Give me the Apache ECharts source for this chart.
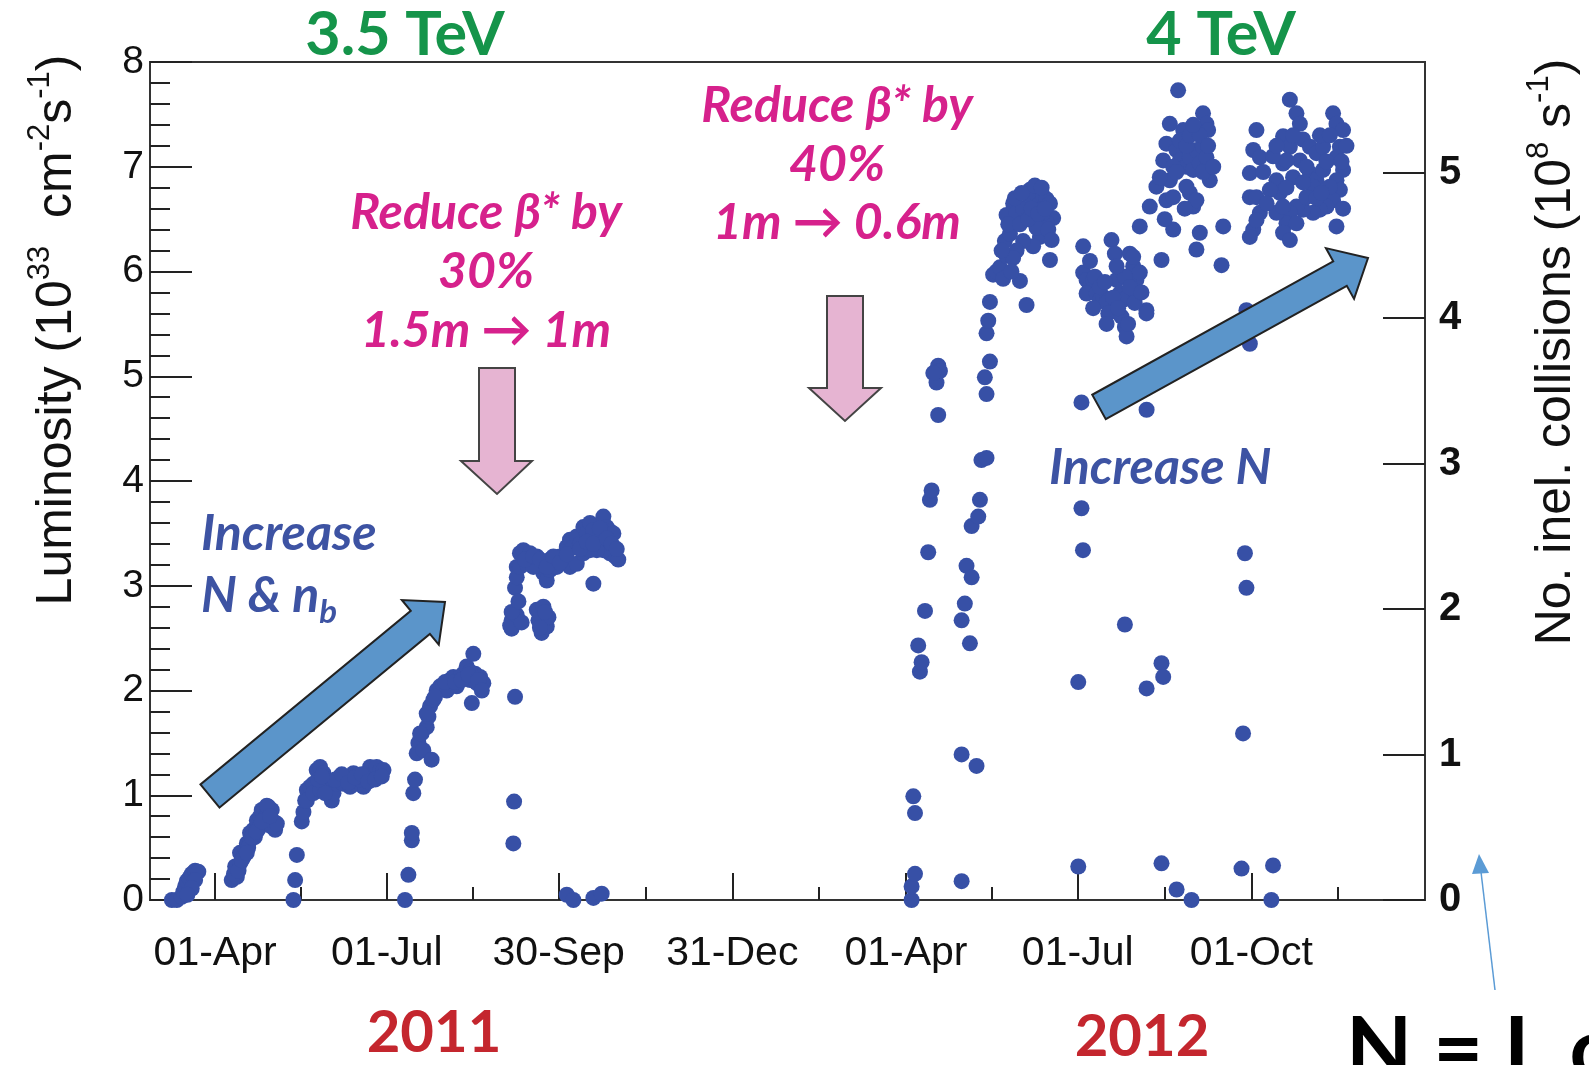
<!DOCTYPE html>
<html><head><meta charset="utf-8">
<script src="https://cdn.jsdelivr.net/npm/echarts@6/dist/echarts.min.js"></script>
<style>html,body{margin:0;padding:0;background:#fff}#c{width:1589px;height:1065px}</style>
</head><body><div id="c"></div>
<script>
// x values: days since 1 Jan 2011 (0 = 01-Jan-2011)
const xTickDays   = [90, 181, 272, 364, 456, 547, 639];
const xTickLabels = ['01-Apr','01-Jul','30-Sep','31-Dec','01-Apr','01-Jul','01-Oct'];
const xMinorDays  = [135.5, 226.5, 318, 410, 501.5, 593, 685];
const lumiTicks   = [0,1,2,3,4,5,6,7,8];
const collTicks   = [0,1,2,3,4,5];

// [day, luminosity (1e33 cm^-2 s^-1)]
const run2011 = [
 [67.1,0.00],[69.7,0.00],[72.3,0.03],[73.2,0.08],[74.1,0.13],[75.0,0.18],[76.4,0.21],[77.6,0.25],[79.4,0.28],[81.1,0.27],[79.4,0.19],[77.6,0.11],[75.3,0.05],
 [98.8,0.19],[101.5,0.22],[100.6,0.32],[103.2,0.35],[103.2,0.45],[105.9,0.48],[106.8,0.54],[108.5,0.57],[108.5,0.64],[110.3,0.67],[112.1,0.70],[112.1,0.76],[113.8,0.80],[114.7,0.86],[115.6,0.73],[117.4,0.83],[118.2,0.89],[120.0,0.86],[120.9,0.75],[121.8,0.67],[100.0,0.25],[105.0,0.41],[107.5,0.50],[111.0,0.60],[113.0,0.68],[116.5,0.78],[120.0,0.70],[122.7,0.73],
 [102.4,0.28],[104.1,0.38],[106.8,0.45],[109.4,0.60],[111.9,0.65],[114.7,0.75],[117.4,0.90],[119.1,0.80],
 [131.5,0.00],[132.4,0.19],[133.3,0.43],[135.9,0.75],[136.8,0.84],[137.7,0.95],[138.6,1.05],[140.3,1.08],[142.1,1.11],[143.8,1.24],[145.6,1.27],[147.4,1.21],[149.1,1.15],[150.9,1.05],[151.8,0.95],[152.7,1.02],[154.4,1.11],[156.2,1.18],[158.0,1.11],[159.7,1.15],[161.5,1.18],[163.3,1.21],[165.0,1.11],[168.6,1.08],[170.3,1.18],[172.1,1.27],[173.9,1.21],[175.6,1.27],[177.4,1.23],[179.2,1.24],[138.6,0.95],[142.1,1.02],[145.6,1.05],[148.2,1.02],[161.5,1.08],[166.8,1.15],
 [153.6,1.15],[157.1,1.20],[160.6,1.12],[164.2,1.17],[167.7,1.20],[171.2,1.13],[174.7,1.15],[178.3,1.18],[144.7,1.15],[146.5,1.18],
 [190.6,0.00],[192.4,0.24],[194.2,0.57],[194.2,0.64],[195.0,1.02],[195.9,1.15],[196.8,1.40],[197.7,1.50],[199.4,1.59],[200.3,1.43],[202.1,1.65],[203.0,1.75],[203.9,1.85],[204.7,1.34],[205.6,1.91],[207.4,2.00],[209.2,2.04],[210.9,2.05],[212.7,2.00],[214.5,2.10],[216.2,2.13],[218.0,2.04],[219.8,2.13],[221.5,2.16],[223.3,2.23],[225.1,2.10],[226.0,1.88],[227.7,2.16],[228.6,2.07],[230.4,2.13],[232.1,2.07],[226.8,2.35],[198.6,1.59],[202.1,1.78],[206.5,1.94],[225.1,2.18],
 [211.8,2.08],[217.1,2.08],[220.6,2.10],[224.2,2.15],[229.5,2.10],[231.3,2.00],
 [248.0,0.54],[248.4,0.94],[248.9,1.94],[247.1,2.67],[247.1,2.59],[246.3,2.62],[249.8,2.72],[252.4,2.65],[248.9,2.98],[249.8,3.18],[251.5,3.31],[253.3,3.34],[256.8,3.31],[260.4,3.28],[262.1,3.18],[263.9,3.12],[265.7,3.05],[267.4,3.15],[269.2,3.21],[271.0,3.18],[274.5,3.25],[276.3,3.37],[278.0,3.44],[279.8,3.37],[281.6,3.47],[283.3,3.40],[285.1,3.56],[286.9,3.50],[288.6,3.60],[290.4,3.53],[293.9,3.47],[295.7,3.66],[297.5,3.56],[299.2,3.52],[301.0,3.50],[301.9,3.28],[299.2,3.31],[295.7,3.34],[292.2,3.34],[290.4,3.02],[260.4,2.77],[261.3,2.67],[263.0,2.55],[265.7,2.61],[266.6,2.70],[263.9,2.80],[249.8,3.08],[251.5,3.18],[255.1,3.21],[258.6,3.18],[267.4,3.25],[272.7,3.28],[278.0,3.18],[281.6,3.21],[285.1,3.31],[288.6,3.34],[303.6,3.25],
 [254.2,3.25],[258.6,3.28],[262.1,3.25],[265.7,3.18],[269.2,3.28],[272.7,3.22],[276.3,3.30],[283.3,3.35],[286.9,3.42],[290.4,3.40],[293.9,3.55],[297.5,3.45],[300.1,3.40],[302.8,3.35],[247.1,2.75],[250.7,2.85],[262.1,2.60],[264.8,2.75],
 [276.3,0.05],[279.8,0.00],[290.4,0.02],[294.8,0.06]
];
const run2012 = [
 [459.0,0.00],[459.0,0.13],[460.8,0.25],[459.9,0.99],[460.8,0.83],[463.4,2.18],[464.3,2.27],[462.5,2.43],[466.1,2.76],[467.8,3.32],[468.7,3.82],[469.6,3.91],[473.1,4.63],[472.2,4.94],[473.1,5.10],[474.0,5.05],[470.5,5.03],
 [485.5,0.18],[485.5,1.39],[493.4,1.28],[489.9,2.45],[485.5,2.67],[487.2,2.83],[488.1,3.19],[490.8,3.08],[490.8,3.57],[494.3,3.66],[495.2,3.82],[496.0,4.20],[498.7,4.22],[498.7,4.83],[497.8,4.99],[500.5,5.14],[498.7,5.41],[499.6,5.53],[500.5,5.71],[502.2,5.97],[504.0,6.00],[505.8,6.04],[507.5,5.93],[509.3,6.15],[508.4,6.29],[511.1,6.36],[509.3,6.54],[512.8,6.65],[514.6,6.56],[518.1,6.60],[519.9,6.74],[521.7,6.78],[523.4,6.69],[525.2,6.74],[527.0,6.65],[528.7,6.72],[530.5,6.69],[532.3,6.65],[534.0,6.51],[530.5,6.47],[527.0,6.33],[523.4,6.24],[518.1,6.29],[514.6,6.20],[512.8,6.13],[516.4,5.91],[519.9,5.68],[532.3,6.11],[525.2,6.42],[528.7,6.56],
 [506.7,6.20],[510.2,6.45],[513.7,6.70],[516.4,6.45],[520.8,6.50],[522.6,6.60],[526.1,6.55],[529.6,6.60],[531.4,6.40],[533.2,6.30],[517.3,6.75],[511.9,6.00],[524.3,6.82],[527.9,6.80],
 [549.9,6.24],[549.9,5.99],[551.7,5.92],[553.5,5.86],[555.2,5.92],[551.7,5.79],[557.0,5.79],[558.8,5.73],[560.5,5.76],[562.3,5.70],[563.2,5.60],[564.9,6.30],[566.7,6.17],[567.6,5.92],[569.3,5.79],[570.2,5.57],[572.0,5.47],[572.9,5.38],[571.1,5.73],[574.6,6.17],[576.4,6.05],[578.1,5.92],[579.9,5.99],[578.1,5.79],[583.4,5.63],[576.4,6.14],[572.0,5.95],
 [553.5,6.10],[556.1,5.95],[558.8,5.85],[561.4,5.90],[565.8,5.75],[568.4,5.65],[574.6,5.85],[577.2,5.70],[580.8,5.80],[555.2,5.65],[562.3,5.50],[567.6,6.05],[573.7,5.50],
 [579.9,6.43],[585.2,6.62],[588.7,6.81],[594.0,6.68],[597.6,6.71],[592.3,7.06],[594.0,7.22],[595.8,7.41],[599.3,7.16],[602.9,7.35],[601.1,7.06],[604.6,7.00],[606.4,7.09],[608.2,6.97],[609.9,7.16],[611.7,7.03],[613.4,7.19],[615.2,7.09],[617.0,6.87],[613.4,7.51],[615.2,7.41],[616.1,7.35],[600.2,7.73],[606.4,6.75],[608.2,6.62],[609.9,6.68],[611.7,6.37],[609.9,6.21],[624.1,6.43],[623.2,6.06],[597.6,6.40],[591.4,6.11],[583.4,5.60],[595.8,6.87],[604.6,6.81],
 [590.5,6.90],[597.6,7.00],[599.3,6.95],[601.1,7.25],[604.6,7.20],[606.4,7.30],[611.7,7.30],[613.4,6.95],[608.2,7.40],[616.1,7.20],[618.8,7.00],[603.7,6.60],[593.1,6.50],
 [638.2,6.94],[641.7,7.35],[640.0,7.16],[643.5,7.09],[638.2,6.71],[641.7,6.71],[643.5,6.56],[640.0,6.40],[638.2,6.33],[641.7,6.49],[659.4,7.64],[662.9,7.51],[664.7,7.41],[655.8,7.29],[659.4,7.19],[666.4,7.26],[670.0,7.19],[673.5,7.13],[677.0,7.19],[682.3,7.51],[684.1,7.41],[687.6,7.35],[685.9,7.19],[684.1,7.09],[687.6,6.97],[684.1,6.87],[685.9,6.78],[682.3,6.68],[678.8,6.62],[675.3,6.59],[671.7,6.56],[666.4,6.59],[662.9,6.62],[659.4,6.56],[657.6,6.46],[655.8,6.37],[659.4,6.30],[652.3,6.87],[654.1,6.75],[655.8,7.03],[661.1,6.90],[664.7,7.06],[670.0,6.94],[673.5,6.87],[677.0,6.97],[680.6,6.81],[671.7,6.81],[668.2,6.71],[684.1,6.43],[657.6,7.06],[648.8,6.78],[652.3,6.56],[655.8,6.62],[662.9,6.46],
 [645.3,6.95],[647.1,6.65],[650.5,7.10],[652.3,7.20],[657.6,6.80],[661.1,7.30],[668.2,7.00],[675.3,7.30],[678.8,7.05],[680.6,7.30],[686.8,7.05],[689.4,7.20],[666.4,6.85],[673.5,6.70],[687.6,6.60],[676.1,6.75],
 [549.0,4.75],[583.5,4.68],[549.0,3.74],[549.8,3.34],[572.0,2.63],[547.3,2.08],[591.4,2.26],[592.3,2.13],[583.5,2.02],[635.6,3.31],[636.4,2.98],[634.6,1.59],[547.3,0.32],[591.4,0.35],[599.4,0.10],[607.3,0.00],[633.8,0.30],[650.5,0.33],[649.6,0.00],[636.4,5.63],[638.2,5.31]
];

const DOT = '#3750a6';
const LBL = 'Liberation Sans, Arial, sans-serif';
const CAL = 'Lato, Carlito, sans-serif';

function bigArrow(T, P, w, h, L) {
  const dx = P[0]-T[0], dy = P[1]-T[1], len = Math.hypot(dx, dy);
  const u = [dx/len, dy/len], n = [-u[1], u[0]];
  const B = [P[0]-u[0]*L, P[1]-u[1]*L];
  const pt = (o, k) => [o[0]+n[0]*k, o[1]+n[1]*k];
  return [pt(T,w), pt(B,w), pt(B,h), P, pt(B,-h), pt(B,-w), pt(T,-w)];
}

const chart = echarts.init(document.getElementById('c'), null, {renderer:'canvas'});
const pink = '#d6218c', blueTxt = '#3d53a3', green = '#15944a', red = '#c4262e';
const titleRich = {
  b:   {fontFamily: LBL, fontSize: 50, fill: '#111', lineHeight: 64},
  sup: {fontFamily: LBL, fontSize: 31, fill: '#111', verticalAlign: 'top', lineHeight: 64}
};
function txt(text, x, y, o) {
  return {type:'text', x, y, z: 100, style: Object.assign({text, align:'center', verticalAlign:'middle'}, o)};
}
const ann = {fontFamily: CAL, fontWeight:'bold', fontStyle:'italic', fontSize: 50};
const graphics = [
  {type:'text', x: 57, y: 330, rotation: Math.PI/2, z: 100,
   style:{text:'{b|Luminosity (10}{sup|33}{b|  cm}{sup|-2}{b|s}{sup|-1}{b|)}', rich: titleRich, align:'center', verticalAlign:'middle'}},
  {type:'text', x: 1556, y: 352, rotation: Math.PI/2, z: 100,
   style:{text:'{b|No. inel. collisions (10}{sup|8}{b| s}{sup|-1}{b|)}', rich: titleRich, align:'center', verticalAlign:'middle'}},
  txt('3.5 TeV', 405, 35, {fontFamily: CAL, fontWeight:'bold', fontSize: 61, fill: green}),
  txt('4 TeV', 1221, 35, {fontFamily: CAL, fontWeight:'bold', fontSize: 61, fill: green}),
  txt('2011', 434, 1033, {fontFamily: CAL, fontWeight:'bold', fontSize: 58, fill: red}),
  txt('2012', 1142, 1037, {fontFamily: CAL, fontWeight:'bold', fontSize: 58, fill: red}),
  txt('Reduce β* by', 486, 213, Object.assign({fill: pink}, ann)),
  txt('30%', 486, 272, Object.assign({fill: pink}, ann)),
  txt('1.5m → 1m', 486, 331, Object.assign({fill: pink}, ann)),
  txt('Reduce β* by', 837, 106, Object.assign({fill: pink}, ann)),
  txt('40%', 837, 165, Object.assign({fill: pink}, ann)),
  txt('1m → 0.6m', 837, 223, Object.assign({fill: pink}, ann)),
  {type:'text', x: 201, y: 534, z: 100, style: Object.assign({text:'Increase', align:'left', verticalAlign:'middle', fill: blueTxt}, ann)},
  {type:'text', x: 201, y: 596, z: 100, style:{text:'{m|N & n}{s|b}', align:'left', verticalAlign:'middle',
    rich:{m: Object.assign({fill: blueTxt, lineHeight: 66}, ann),
          s: {fontFamily: CAL, fontWeight:'bold', fontStyle:'italic', fontSize: 33, fill: blueTxt, verticalAlign:'bottom', lineHeight: 66}}}},
  {type:'text', x: 1049, y: 468, z: 100, style: Object.assign({text:'Increase N', align:'left', verticalAlign:'middle', fill: blueTxt}, ann)},
  {type:'polygon', z: 90, shape:{points:[[479,368],[515,368],[515,461],[532,461],[497,494],[461,461],[479,461]]}, style:{fill:'#e6b4d2', stroke:'#444', lineWidth:2}},
  {type:'polygon', z: 90, shape:{points:[[827,296],[863,296],[863,388],[881,388],[845,421],[809,388],[827,388]]}, style:{fill:'#e6b4d2', stroke:'#444', lineWidth:2}},
  {type:'polygon', z: 90, shape:{points: bigArrow([210,796],[445,602],15,29,32)}, style:{fill:'#5b95ca', stroke:'#222', lineWidth:2}},
  {type:'polygon', z: 90, shape:{points: bigArrow([1099,407],[1368,258],14,29,32)}, style:{fill:'#5b95ca', stroke:'#222', lineWidth:2}},
  {type:'line', z: 90, shape:{x1:1495, y1:990, x2:1481, y2:872}, style:{stroke:'#5b9bd5', lineWidth:1.5}},
  {type:'polygon', z: 90, shape:{points:[[1479,854],[1472,874],[1489,873]]}, style:{fill:'#5b9bd5'}},
  {type:'text', x: 1346, y: 1050, z: 100, style:{text:'N = L σ', align:'left', verticalAlign:'middle', fontFamily: CAL, fontWeight:'bold', fontSize: 86, fill:'#000'}}
];

chart.setOption({
  animation: false,
  backgroundColor: '#fff',
  grid: {left: 150, right: 164, top: 62, bottom: 165, show: true, borderColor: '#333', borderWidth: 2, backgroundColor: 'transparent'},
  xAxis: [{
    type: 'value', min: 55.5, max: 731, position: 'bottom',
    axisLine: {lineStyle: {color: '#333', width: 2}},
    axisTick: {inside: true, length: 27, customValues: xTickDays, lineStyle: {color: '#222', width: 2}},
    axisLabel: {customValues: xTickDays, margin: 33, fontFamily: LBL, fontSize: 41, color: '#111',
      formatter: v => { const i = xTickDays.indexOf(v); return i >= 0 ? xTickLabels[i] : ''; }},
    splitLine: {show: false}
  }, {
    type: 'value', min: 55.5, max: 731, position: 'bottom',
    axisLine: {show: false},
    axisTick: {inside: true, length: 13, customValues: xMinorDays, lineStyle: {color: '#222', width: 2}},
    axisLabel: {show: false}, splitLine: {show: false}
  }],
  yAxis: [{
    type: 'value', min: 0, max: 8, interval: 1, position: 'left',
    axisLine: {show: true, lineStyle: {color: '#333', width: 2}},
    axisTick: {show: true, inside: true, length: 42, customValues: lumiTicks, lineStyle: {color: '#222', width: 2}},
    minorTick: {show: true, splitNumber: 5, length: 20, lineStyle: {color: '#222', width: 2}},
    axisLabel: {customValues: lumiTicks, margin: 6, fontFamily: LBL, fontSize: 39, color: '#111'},
    splitLine: {show: false}, minorSplitLine: {show: false}
  }, {
    type: 'value', min: 0, max: 5.76, position: 'right',
    axisLine: {show: true, lineStyle: {color: '#333', width: 2}},
    axisTick: {show: true, inside: true, length: 42, customValues: collTicks, lineStyle: {color: '#222', width: 2}},
    axisLabel: {customValues: collTicks, margin: 14, fontFamily: LBL, fontWeight: 'bold', fontSize: 40, color: '#111'},
    splitLine: {show: false}
  }],
  series: [
    {name: '2011', type: 'scatter', xAxisIndex: 0, yAxisIndex: 0, data: run2011, symbol: 'circle', symbolSize: 16, itemStyle: {color: DOT, opacity: 1}, z: 5},
    {name: '2012', type: 'scatter', xAxisIndex: 0, yAxisIndex: 0, data: run2012, symbol: 'circle', symbolSize: 16, itemStyle: {color: DOT, opacity: 1}, z: 5}
  ],
  graphic: graphics
});
</script></body></html>
